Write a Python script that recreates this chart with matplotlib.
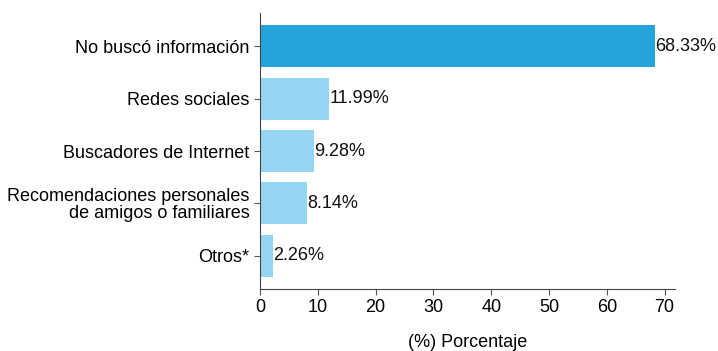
import matplotlib
matplotlib.use("Agg")
import matplotlib.pyplot as plt

plt.rcParams['font.family'] = ['Liberation Sans', 'DejaVu Sans']

categories = [
    "No buscó información",
    "Redes sociales",
    "Buscadores de Internet",
    "Recomendaciones personales\nde amigos o familiares",
    "Otros*",
]
values = [68.33, 11.99, 9.28, 8.14, 2.26]
colors = ["#25a3da", "#94d6f2", "#94d6f2", "#94d6f2", "#94d6f2"]
xticks = [0, 10, 20, 30, 40, 50, 60, 70]

fig = plt.figure(figsize=(7.18, 3.51), dpi=100)
ax = fig.add_axes([260 / 718, 1 - 289 / 351, 415 / 718, 276 / 351])

ypos = list(range(len(categories)))
ax.barh(ypos, values, height=0.8, color=colors)
for y, v in zip(ypos, values):
    ax.text(v, y, f"{v:.2f}%", va="center", ha="left", fontsize=13, color="#111111")

ax.set_yticks(ypos)
ax.set_yticklabels(categories, fontsize=13, linespacing=1.0)
ax.set_ylim(len(categories) - 0.37, -0.63)
ax.set_xlim(0, 71.8)
ax.set_xticks(xticks)
ax.tick_params(axis="x", labelsize=13, length=4, color="#555555")
ax.tick_params(axis="y", length=4, color="#555555")
for s in ["top", "right"]:
    ax.spines[s].set_visible(False)
for s in ["left", "bottom"]:
    ax.spines[s].set_color("#444444")
ax.set_xlabel("(%) Porcentaje", fontsize=13, labelpad=13)

fig.savefig("out.png", dpi=100)
